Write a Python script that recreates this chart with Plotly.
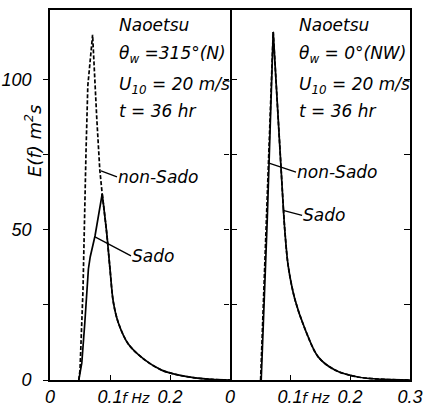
import plotly.graph_objects as go

# ---- data ----
left_nonsado_f = [0.048, 0.050, 0.055, 0.057, 0.058, 0.060, 0.063, 0.071, 0.078, 0.083, 0.087,
                  0.0945, 0.100, 0.1055, 0.114, 0.1305, 0.158, 0.186, 0.213, 0.242, 0.27, 0.30]
left_nonsado_E = [0, 3.3, 30, 53, 63, 76, 98, 115, 87, 70, 62,
                  49, 37, 26, 19, 12, 6.7, 3.3, 1.7, 0.7, 0.2, 0]

left_sado_f = [0.048, 0.053, 0.058, 0.064, 0.067, 0.075, 0.087,
               0.0945, 0.100, 0.1055, 0.114, 0.1305, 0.158, 0.186, 0.213, 0.242, 0.27, 0.30]
left_sado_E = [0, 5.7, 19, 37, 41, 48, 62,
               49, 37, 26, 19, 12, 6.7, 3.3, 1.7, 0.7, 0.2, 0]

right_nonsado_f = [0.051, 0.056, 0.061, 0.072, 0.089, 0.0917, 0.097, 0.108, 0.125, 0.147, 0.175, 0.213, 0.258, 0.30]
right_nonsado_E = [0, 27, 53, 116, 57, 49, 38, 27, 17, 7.7, 3.3, 1.0, 0.2, 0]

right_sado_f = [0.052, 0.057, 0.062, 0.072, 0.089, 0.0917, 0.097, 0.108, 0.125, 0.147, 0.175, 0.213, 0.258, 0.30]
right_sado_E = [0, 27, 53, 116, 57, 49, 38, 27, 17, 7.7, 3.3, 1.0, 0.2, 0]

left_xticks = [0, 0.1, 0.2]
left_xticklabels = ["0", "0.1", "0.2"]
right_xticks = [0, 0.1, 0.2, 0.3]
right_xticklabels = ["0", "0.1", "0.2", "0.3"]
yticks = [0, 25, 50, 75, 100]
yticklabels = ["0", "", "50", "", "100"]

left_text = ["Naoetsu", "θ<sub>w</sub> =315°(N)", "U<sub>10</sub> = 20 m/s", "t = 36 hr"]
right_text = ["Naoetsu", "θ<sub>w</sub> = 0°(NW)", "U<sub>10</sub> = 20 m/s", "t = 36 hr"]

# ---- figure ----
W, H = 427, 408
ML, MR, MT, MB = 50, 17, 10, 28
PW, PH = W - ML - MR, H - MT - MB

ANN_FONT = dict(family="DejaVu Sans", size=17, color="black", style="italic")
TICK_FONT = dict(family="Liberation Sans", size=18, color="black", style="italic")
LW = 1.7

fig = go.Figure()


def add_curve(f, e, split, xa, ya, dash=None):
    """rising part drawn straight, tail (from index `split`) drawn smooth"""
    line = dict(color="black", width=LW)
    if dash:
        line["dash"] = dash
    fig.add_trace(go.Scatter(x=f[:split + 1], y=e[:split + 1], mode="lines", line=line,
                             xaxis=xa, yaxis=ya, hoverinfo="skip"))
    fig.add_trace(go.Scatter(x=f[split:], y=e[split:], mode="lines",
                             line=dict(line, shape="spline", smoothing=0.9),
                             xaxis=xa, yaxis=ya, hoverinfo="skip"))


add_curve(left_nonsado_f, left_nonsado_E, 10, "x", "y", dash="4px,2px")
add_curve(left_sado_f, left_sado_E, 6, "x", "y")
add_curve(right_nonsado_f, right_nonsado_E, 4, "x2", "y2", dash="4px,2px")
add_curve(right_sado_f, right_sado_E, 4, "x2", "y2")

yrange = [0, 123.3]
axis_common = dict(showgrid=False, zeroline=False, linecolor="black", automargin=False,
                   linewidth=1.6, tickcolor="black", tickwidth=1.4)

fig.update_layout(
    width=W, height=H,
    margin=dict(l=ML, r=MR, t=MT, b=MB, pad=0, autoexpand=False),
    paper_bgcolor="white", plot_bgcolor="white",
    showlegend=False,
    xaxis=dict(domain=[0, 0.5], range=[0, 0.3], tickvals=left_xticks, ticktext=left_xticklabels,
               ticks="inside", ticklen=5, mirror=True, showline=True, tickfont=TICK_FONT,
               ticklabelstandoff=0, anchor="y", **axis_common),
    xaxis2=dict(domain=[0.5, 1], range=[0, 0.3], tickvals=right_xticks, ticktext=right_xticklabels,
                ticks="inside", ticklen=5, mirror=True, showline=True, tickfont=TICK_FONT,
                ticklabelstandoff=0, anchor="y2", **axis_common),
    yaxis=dict(domain=[0, 1], range=yrange, tickvals=yticks, ticktext=yticklabels,
               ticks="outside", ticklen=5, mirror="ticks", showline=True, tickfont=TICK_FONT,
               ticklabelstandoff=8, anchor="x", **axis_common),
    yaxis2=dict(domain=[0, 1], range=yrange, tickvals=yticks, showticklabels=False,
                ticks="outside", ticklen=5, showline=False, anchor="x2", **axis_common),
    yaxis3=dict(domain=[0, 1], range=yrange, tickvals=yticks, showticklabels=False,
                ticks="inside", ticklen=6, showline=True, anchor="x2", overlaying="y2",
                side="right", **axis_common),
)
# invisible trace so that the right-hand frame axis is drawn
fig.add_trace(go.Scatter(x=[None], y=[None], xaxis="x2", yaxis="y3", showlegend=False))


def px(xp):
    return (xp - ML) / PW


def py(yp):
    return (H - MB - yp) / PH


annotations = []
row_y = [25, 54, 85, 111]
for txt, yy in zip(left_text, row_y):
    annotations.append(dict(x=px(117), y=py(yy), xref="paper", yref="paper", text=txt,
                            showarrow=False, xanchor="left", yanchor="middle", font=ANN_FONT))
for txt, yy in zip(right_text, row_y):
    annotations.append(dict(x=px(297), y=py(yy), xref="paper", yref="paper", text=txt,
                            showarrow=False, xanchor="left", yanchor="middle", font=ANN_FONT))

# curve labels with leader lines
lead = dict(showarrow=True, arrowhead=0, arrowwidth=1.3, arrowcolor="black",
            xanchor="left", yanchor="middle", font=ANN_FONT, standoff=0, borderpad=0)
annotations.append(dict(x=0.085, y=69.7, xref="x", yref="y", text="non-Sado", ax=16, ay=6, **lead))
annotations.append(dict(x=0.075, y=47.7, xref="x", yref="y", text="Sado", ax=36, ay=19, **lead))
annotations.append(dict(x=0.065, y=72.3, xref="x2", yref="y2", text="non-Sado", ax=27, ay=9, **lead))
annotations.append(dict(x=0.0885, y=56.5, xref="x2", yref="y2", text="Sado", ax=19, ay=5, **lead))

# axis titles
annotations.append(dict(x=px(33), y=py(141), xref="paper", yref="paper",
                        text="E(f) m<sup>2</sup>s", textangle=-90, showarrow=False,
                        xanchor="center", yanchor="middle", font=dict(ANN_FONT, size=18)))
for cx in (136, 316):
    annotations.append(dict(x=px(cx), y=py(398), xref="paper", yref="paper", text="f Hz",
                            showarrow=False, xanchor="center", yanchor="middle",
                            font=dict(ANN_FONT, size=14)))

fig.update_layout(annotations=annotations)

fig.write_html("out.html", config={"displayModeBar": False},
               post_script="document.body.style.margin='0';")
